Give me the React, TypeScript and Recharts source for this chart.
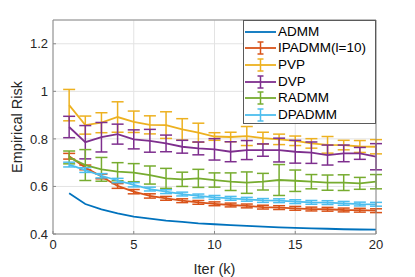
import React from 'react';
import { LineChart, Line, XAxis, YAxis, CartesianGrid, ErrorBar, Legend, Label } from 'recharts';

const iters = [1, 2, 3, 4, 5, 6, 7, 8, 9, 10, 11, 12, 13, 14, 15, 16, 17, 18, 19, 20];

const admm = [0.571, 0.526, 0.504, 0.487, 0.473, 0.465, 0.456, 0.451, 0.445, 0.441, 0.437, 0.434, 0.431, 0.428, 0.426, 0.424, 0.422, 0.42, 0.419, 0.418];

const ipadmm = [0.727, 0.68, 0.642, 0.602, 0.578, 0.56, 0.55, 0.54, 0.533, 0.527, 0.522, 0.518, 0.513, 0.511, 0.508, 0.505, 0.504, 0.501, 0.5, 0.498];
const ipadmmErr = [0.012, 0.01, 0.01, 0.01, 0.009, 0.009, 0.008, 0.008, 0.008, 0.008, 0.008, 0.008, 0.008, 0.008, 0.008, 0.008, 0.008, 0.008, 0.008, 0.008];

const pvp = [0.942, 0.858, 0.868, 0.892, 0.872, 0.859, 0.858, 0.84, 0.826, 0.81, 0.808, 0.812, 0.803, 0.798, 0.792, 0.781, 0.775, 0.774, 0.768, 0.767];
const pvpErr = [0.066, 0.038, 0.042, 0.064, 0.045, 0.038, 0.056, 0.045, 0.04, 0.016, 0.02, 0.04, 0.025, 0.022, 0.02, 0.02, 0.035, 0.02, 0.025, 0.03];

const dvp = [0.85, 0.786, 0.807, 0.82, 0.798, 0.792, 0.781, 0.767, 0.76, 0.756, 0.746, 0.753, 0.753, 0.753, 0.746, 0.742, 0.732, 0.739, 0.739, 0.725];
const dvpErr = [0.045, 0.07, 0.062, 0.042, 0.04, 0.048, 0.035, 0.027, 0.027, 0.045, 0.042, 0.04, 0.026, 0.05, 0.048, 0.045, 0.042, 0.035, 0.025, 0.055];

const radmm = [0.722, 0.69, 0.672, 0.662, 0.658, 0.648, 0.634, 0.63, 0.634, 0.627, 0.62, 0.616, 0.62, 0.627, 0.624, 0.62, 0.616, 0.616, 0.613, 0.62];
const radmmErr = [0.027, 0.065, 0.05, 0.038, 0.038, 0.038, 0.042, 0.03, 0.038, 0.03, 0.037, 0.045, 0.035, 0.065, 0.045, 0.03, 0.032, 0.033, 0.025, 0.03];

const dpadmm = [0.692, 0.669, 0.645, 0.625, 0.607, 0.589, 0.578, 0.568, 0.56, 0.554, 0.55, 0.546, 0.541, 0.54, 0.536, 0.533, 0.532, 0.529, 0.526, 0.525];
const dpadmmErr = [0.01, 0.01, 0.009, 0.009, 0.009, 0.008, 0.008, 0.008, 0.008, 0.008, 0.008, 0.008, 0.008, 0.008, 0.008, 0.008, 0.008, 0.008, 0.008, 0.008];

const seriesNames = ['ADMM', 'IPADMM(l=10)', 'PVP', 'DVP', 'RADMM', 'DPADMM'];
const seriesKeys = ['admm', 'ipadmm', 'pvp', 'dvp', 'radmm', 'dpadmm'];
const errKeys = ['', 'ipadmmErr', 'pvpErr', 'dvpErr', 'radmmErr', 'dpadmmErr'];
const colors = ['#0072BD', '#D95319', '#EDB120', '#7E2F8E', '#77AC30', '#4DBEEE'];

const xTicks = [0, 5, 10, 15, 20];
const yTicks = [0.4, 0.6, 0.8, 1, 1.2];

const data = iters.map((k, i) => ({
  k,
  admm: admm[i],
  ipadmm: ipadmm[i],
  ipadmmErr: ipadmmErr[i],
  pvp: pvp[i],
  pvpErr: pvpErr[i],
  dvp: dvp[i],
  dvpErr: dvpErr[i],
  radmm: radmm[i],
  radmmErr: radmmErr[i],
  dpadmm: dpadmm[i],
  dpadmmErr: dpadmmErr[i],
}));

const FONT = '"Liberation Sans", Arial, Helvetica, sans-serif';
const AXIS = '#8a8a8a';
const TEXT = '#262626';

const renderLegend = (props: any) => {
  const payload = [...(props.payload || [])].sort(
    (a: any, b: any) => seriesNames.indexOf(a.value) - seriesNames.indexOf(b.value)
  );
  return (
    <div
      style={{
        width: 133,
        height: 104,
        boxSizing: 'border-box',
        border: '1px solid #5a5a5a',
        background: '#fff',
        paddingTop: 2.5,
        fontFamily: FONT,
        fontSize: 13.5,
        color: '#000',
      }}
    >
      {payload.map((entry: any) => {
        const idx = seriesNames.indexOf(entry.value);
        const hasErr = idx >= 0 && errKeys[idx] !== '';
        return (
          <div key={entry.value} style={{ display: 'flex', alignItems: 'center', height: 16.6 }}>
            <svg width={34} height={16} style={{ display: 'block', flex: 'none' }}>
              <line x1={1} y1={8} x2={32} y2={8} stroke={entry.color} strokeWidth={1.8} />
              {hasErr && (
                <g stroke={entry.color} strokeWidth={1.5}>
                  <line x1={16.5} y1={2} x2={16.5} y2={14} />
                  <line x1={13.5} y1={2} x2={19.5} y2={2} />
                  <line x1={13.5} y1={14} x2={19.5} y2={14} />
                </g>
              )}
            </svg>
            <span style={{ whiteSpace: 'nowrap', lineHeight: '16px' }}>{entry.value}</span>
          </div>
        );
      })}
    </div>
  );
};

export default function App() {
  return (
    <div style={{ position: 'absolute', left: 0, top: 0, width: 415, height: 277, background: '#fff' }}>
      <LineChart
        width={415}
        height={277}
        data={data}
        margin={{ top: 19, right: 38, bottom: 0, left: 0 }}
        style={{ fontFamily: FONT }}
      >
        <CartesianGrid stroke="#e3e3e3" strokeWidth={1} />
        <XAxis
          dataKey="k"
          type="number"
          domain={[0, 20]}
          ticks={xTicks}
          allowDataOverflow
          height={43}
          stroke={AXIS}
          tickSize={-3}
          tickMargin={9}
          tick={{ fill: TEXT, fontSize: 13, fontFamily: FONT }}
        >
          <Label
            value="Iter (k)"
            position="insideBottom"
            offset={3}
            style={{ fill: TEXT, fontSize: 14.5, fontFamily: FONT }}
          />
        </XAxis>
        <XAxis
          xAxisId="top"
          orientation="top"
          dataKey="k"
          type="number"
          domain={[0, 20]}
          ticks={xTicks}
          allowDataOverflow
          height={1}
          stroke={AXIS}
          tickSize={-3}
          tick={false}
        />
        <YAxis
          type="number"
          domain={[0.4, 1.3]}
          ticks={yTicks}
          allowDataOverflow
          width={53}
          stroke={AXIS}
          tickSize={-3}
          tickMargin={8}
          tick={{ fill: TEXT, fontSize: 13, fontFamily: FONT }}
        >
          <Label
            value="Empirical Risk"
            angle={-90}
            position="insideLeft"
            offset={17}
            style={{ fill: TEXT, fontSize: 14.5, fontFamily: FONT, textAnchor: 'middle' }}
          />
        </YAxis>
        <YAxis
          yAxisId="right"
          orientation="right"
          type="number"
          domain={[0.4, 1.3]}
          ticks={yTicks}
          allowDataOverflow
          width={1}
          stroke={AXIS}
          tickSize={-3}
          tick={false}
        />
        {seriesKeys.map((key, i) => (
          <Line
            key={key}
            type="linear"
            dataKey={key}
            name={seriesNames[i]}
            stroke={colors[i]}
            strokeWidth={1.8}
            dot={false}
            activeDot={false}
            isAnimationActive={false}
          >
            {errKeys[i] !== '' && (
              <ErrorBar
                dataKey={errKeys[i]}
                width={6}
                stroke={colors[i]}
                strokeWidth={1.5}
                direction="y"
                isAnimationActive={false}
              />
            )}
          </Line>
        ))}
        <Legend
          layout="vertical"
          align="center"
          verticalAlign="middle"
          content={renderLegend}
          wrapperStyle={{ position: 'absolute', left: 243, top: 20, width: 133, height: 104 }}
        />
      </LineChart>
    </div>
  );
}
